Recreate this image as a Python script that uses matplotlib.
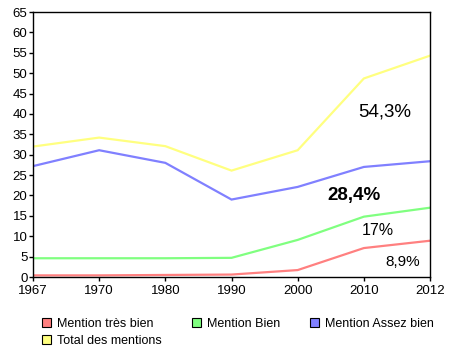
import numpy as np
import matplotlib.pyplot as plt
from matplotlib.patches import Patch

plt.rcParams['font.family'] = ['Liberation Sans', 'DejaVu Sans']

# Data
years = ['1967', '1970', '1980', '1990', '2000', '2010', '2012']
tres_bien = [0.4, 0.4, 0.5, 0.6, 1.7, 7.1, 8.9]
bien = [4.6, 4.6, 4.6, 4.7, 9.1, 14.8, 17.0]
assez_bien = [27.2, 31.1, 28.0, 19.0, 22.1, 27.0, 28.4]
total = [32.0, 34.2, 32.1, 26.1, 31.1, 48.7, 54.3]

labels = ['Mention très bien', 'Mention Bien', 'Mention Assez bien', 'Total des mentions']
colors = ['#ff8080', '#80ff80', '#8080ff', '#ffff80']

fig = plt.figure(figsize=(4.5, 3.54), dpi=100)
ax = fig.add_axes([0.0733, 0.2175, 0.8823, 0.7485])

x = np.arange(len(years))
for vals, c in zip([total, assez_bien, bien, tres_bien], colors[::-1]):
    ax.plot(x, vals, color=c, lw=1.6, solid_joinstyle='miter')

ax.set_xlim(0, len(years) - 1)
ax.set_ylim(0, 65)
ax.set_xticks(x)
ax.set_xticklabels(years)
ax.set_yticks(np.arange(0, 66, 5))
ax.tick_params(labelsize=9.5, length=3, width=1, pad=1)
ax.tick_params(axis='x', pad=3)
for s in ax.spines.values():
    s.set_linewidth(1)

# value labels
ax.text(5.32, 40.5, '54,3%', fontsize=13.5, ha='center', va='center')
ax.text(4.85, 20.1, '28,4%', fontsize=13.5, fontweight='bold', ha='center', va='center')
ax.text(5.21, 11.3, '17%', fontsize=11.5, ha='center', va='center')
ax.text(5.59, 3.7, '8,9%', fontsize=11, ha='center', va='center')

# legend, reordered so it reads row by row
order = [0, 3, 1, 2]
handles = [Patch(facecolor=colors[i], edgecolor='black', linewidth=0.8) for i in order]
fig.legend(handles, [labels[i] for i in order], ncol=3, loc='upper left',
           bbox_to_anchor=(0.093, 0.103), frameon=False, fontsize=9,
           handlelength=0.75, handleheight=0.75, handletextpad=0.45,
           columnspacing=2.4, labelspacing=0.45, borderaxespad=0, borderpad=0)

fig.savefig('out.png', dpi=100)
